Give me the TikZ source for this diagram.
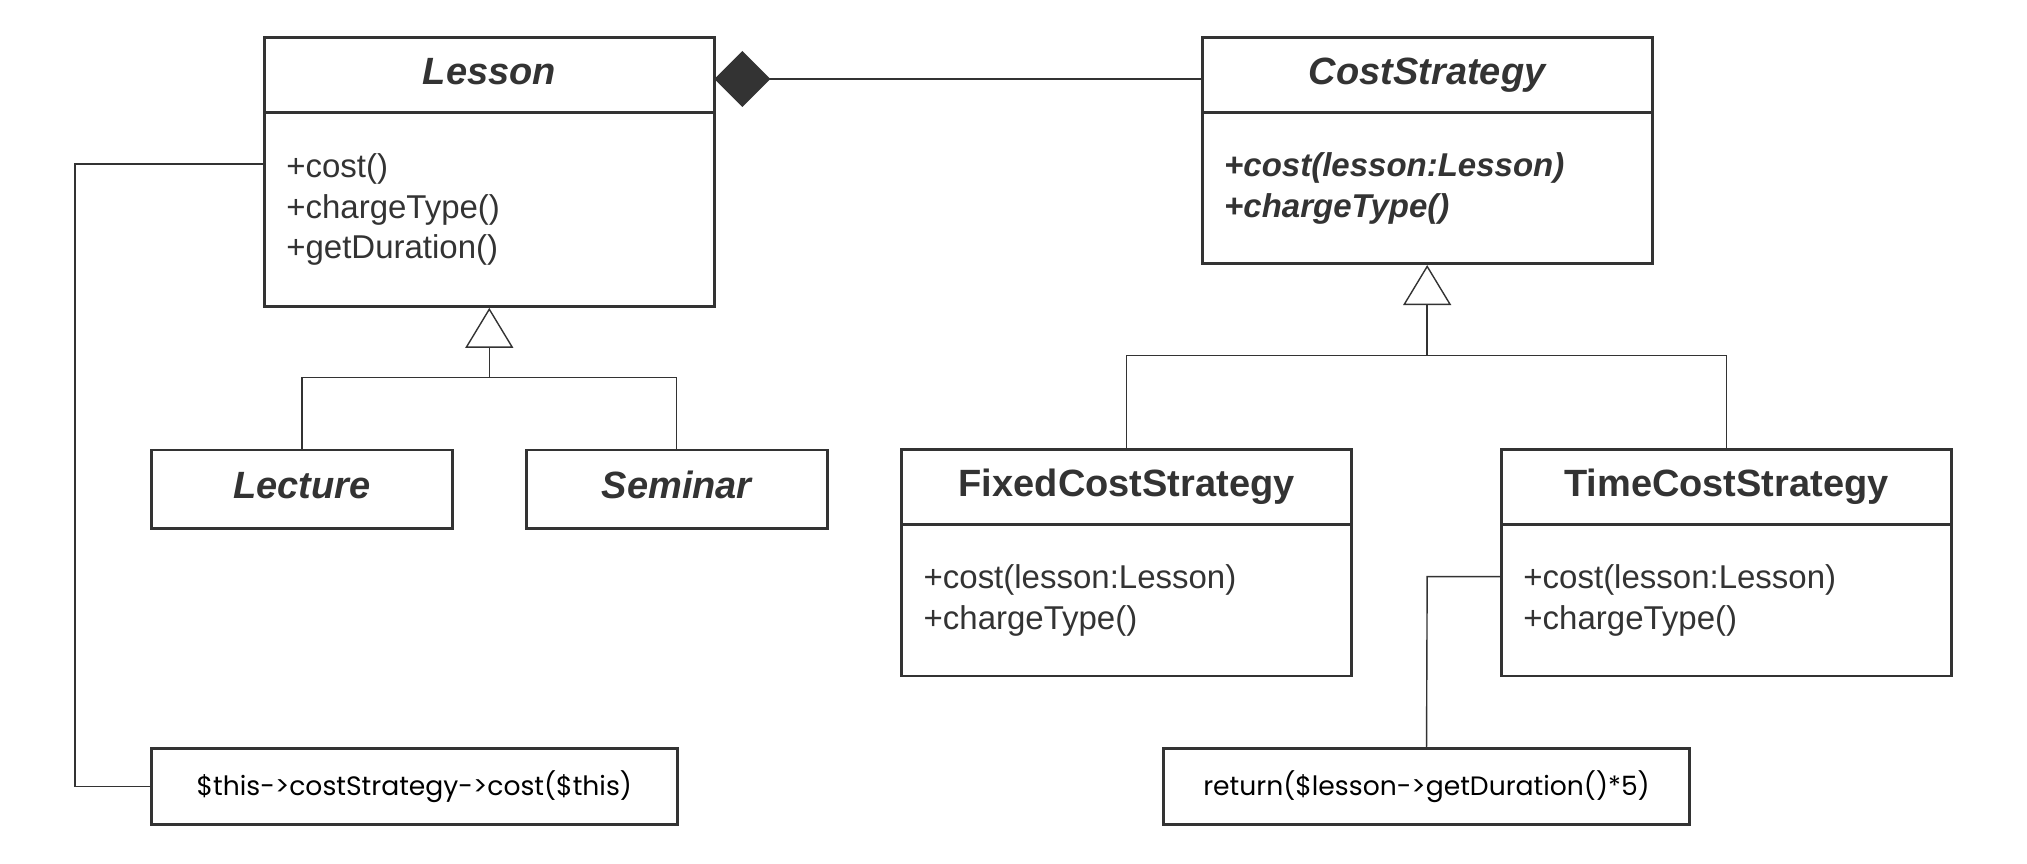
\documentclass[tikz,border=0pt]{standalone}
\usepackage{fontspec}
\setmainfont{Liberation Sans}
\newfontfamily\notefont{Poppins}
\usetikzlibrary{positioning,arrows.meta}
\definecolor{umlgray}{HTML}{333333}
\newcommand{\unitpx}{0.6464pt}
\tikzset{
	classhead/.style={draw=umlgray, line width=1.4pt, text=umlgray, outer sep=0pt, inner sep=0pt,
		minimum width=225pt, minimum height=37.5pt, text height=14pt, text depth=4.4pt,
		font=\fontsize{19}{23}\selectfont\bfseries},
	abstracthead/.style={classhead, font=\fontsize{19}{23}\selectfont\bfseries\itshape},
	classbody/.style={draw=umlgray, line width=1.4pt, text=umlgray, outer sep=0pt, inner xsep=11pt, inner ysep=0pt,
		text width=203pt, align=left, font=\fontsize{16.5}{20.4}\selectfont},
	notebox/.style={draw=umlgray, line width=1.4pt, outer sep=0pt, minimum width=263pt, minimum height=38.1pt,
		font=\notefont\fontsize{13.3}{16}\selectfont},
	link/.style={draw=umlgray, line width=0.7pt},
	gen/.style={link, -{Triangle[open, length=20pt, width=24pt, fill=white]}, shorten >=0.7pt},
}
\begin{document}
\begin{tikzpicture}[x=\unitpx, y=-\unitpx]
	\useasboundingbox (0,0) rectangle (1568,668);
	% abstract classes
	\node[abstracthead] (lessonH) at (378.5,58) {Lesson};
	\node[classbody, minimum height=97pt, below=0pt of lessonH] (lessonB) {+cost()\\+chargeType()\\+getDuration()};
	\node[abstracthead] (costH) at (1104,58) {CostStrategy};
	\node[classbody, minimum height=75.6pt, below=0pt of costH, font=\fontsize{16.5}{20.4}\selectfont\bfseries\itshape] (costB) {+cost(lesson:Lesson)\\+chargeType()};
	% subclasses
	\node[abstracthead, minimum width=150.6pt, minimum height=39.4pt] (lecture) at (233.5,378.5) {Lecture};
	\node[abstracthead, minimum width=150.6pt, minimum height=39.4pt] (seminar) at (523.5,378.5) {Seminar};
	\node[classhead] (fixedH) at (871.5,377) {FixedCostStrategy};
	\node[classbody, minimum height=75.6pt, below=0pt of fixedH] (fixedB) {+cost(lesson:Lesson)\\+chargeType()};
	\node[classhead] (timeH) at (1335.5,377) {TimeCostStrategy};
	\node[classbody, minimum height=75.6pt, below=0pt of timeH] (timeB) {+cost(lesson:Lesson)\\+chargeType()};
	% notes
	\node[notebox] (note1) at (320.5,608.5) {\$this->costStrategy->cost(\$this)};
	\node[notebox] (note2) at (1103.5,608.5) {return(\$lesson->getDuration()*5)};

	\draw[link, {Diamond[length=28pt, width=28pt, fill=umlgray]}-] ([yshift=-2pt]lessonH.east) -- ([yshift=-2pt]costH.west);

	\coordinate (lessonJ) at (378.5,292);
	\coordinate (costJ) at (1104,275);
	\foreach \sub in {lecture, seminar}
		\draw[link] (\sub.north) |- (lessonJ);
	\draw[gen] (lessonJ) -- (lessonB.south);
	\foreach \sub in {fixedH, timeH}
		\draw[link] (\sub.north) |- (costJ);
	\draw[gen] (costJ) -- (costB.south);

	\coordinate (lessonHook) at (58,127);
	\draw[link] (lessonB.west |- lessonHook) -- (lessonHook) |- (note1.west);
	\coordinate (timeHook) at (1104,446);
	\draw[link] (timeB.west |- timeHook) -- (timeHook) -- (note2.north);
\end{tikzpicture}
\end{document}
